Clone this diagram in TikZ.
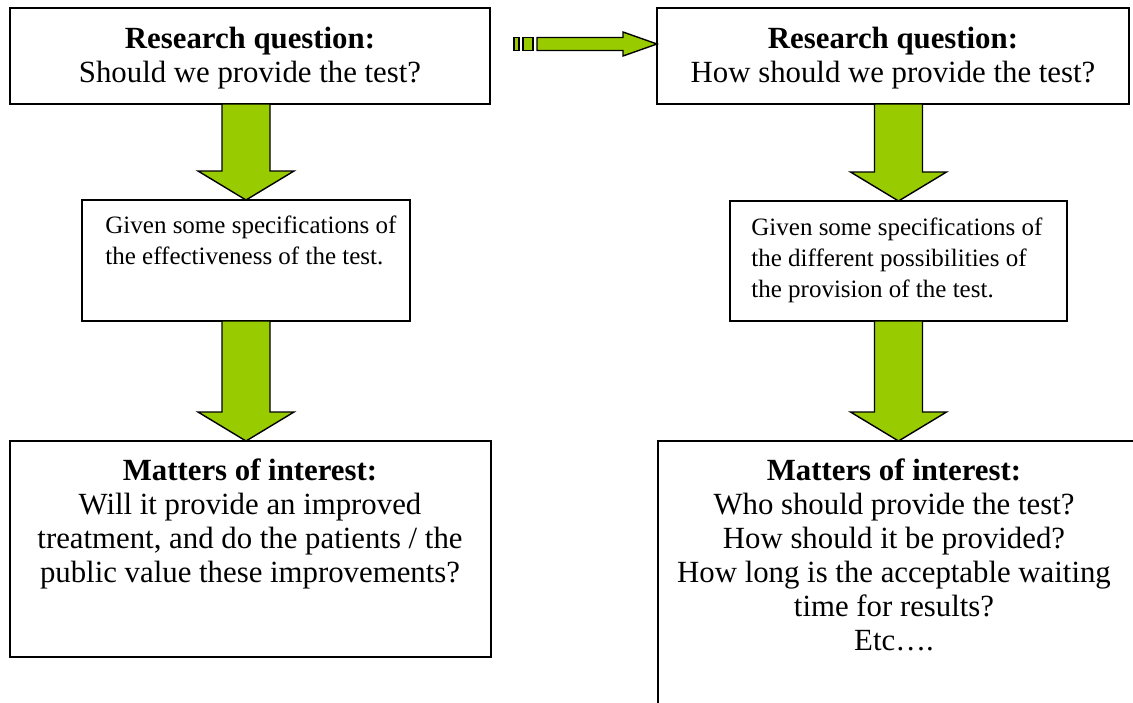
\documentclass[tikz,border=0pt]{standalone}
\usepackage{fontspec}
\setmainfont{Liberation Serif}
\usepackage{tikz}
\usetikzlibrary{positioning, calc}

\definecolor{arrowgreen}{RGB}{153,204,0}
\tikzset{
	box/.style={draw, line width=1pt, inner sep=0pt, outer sep=0pt},
	bigtext/.style={font=\fontsize{15.4}{17}\selectfont, align=center, inner sep=0pt},
	smalltext/.style={font=\fontsize{12.5}{15.6}\selectfont, align=left, inner sep=0pt},
	blockarrow/.style={draw=black, fill=arrowgreen, line width=0.7pt, line join=miter}
}

\begin{document}
\begin{tikzpicture}[x=0.5pt, y=-0.5pt]
\useasboundingbox (0,0) rectangle (1133,702);
\clip (0,0) rectangle (1133,702);

% left column
\node[box, minimum width=240pt, minimum height=48pt] (q1) at (250,56) {};
\node[box, minimum width=164pt, minimum height=60.5pt] (spec1) at (246,260.5) {};
\node[box, minimum width=240.5pt, minimum height=108pt] (int1) at (250.5,549) {};

% right column
\node[box, minimum width=236pt, minimum height=48pt] (q2) at (893,56) {};
\node[box, minimum width=168.5pt, minimum height=60pt] (spec2) at (898.5,261) {};
\node[box, minimum width=251pt, minimum height=159.5pt] (int2) at (909,600.5) {};

\node[bigtext] (q1txt) at ($(q1)+(0,2)$) {\textbf{Research question:}\\Should we provide the test?};
\node[bigtext] (q2txt) at ($(q2)+(0,2)$) {\textbf{Research question:}\\How should we provide the test?};
\node[smalltext, anchor=north west] (spec1txt) at (105,215)
	{Given some specifications of\\the effectiveness of the test.};
\node[smalltext, anchor=north west] (spec2txt) at (751,217)
	{Given some specifications of\\the different possibilities of\\the provision of the test.};
\node[bigtext, anchor=north] (int1txt) at (250,458)
	{\textbf{Matters of interest:}\\Will it provide an improved\\treatment, and do the patients / the\\public value these improvements?};
\node[bigtext, anchor=north] (int2txt) at (894,458)
	{\textbf{Matters of interest:}\\Who should provide the test?\\How should it be provided?\\How long is the acceptable waiting\\time for results?\\Etc….};

\foreach \a/\b/\c in {q1/spec1/spec1, spec1/int1/spec1, q2/spec2/spec2, spec2/int2/spec2}
	\draw[blockarrow] ($(\a.south -| \c.north)+(-24,0)$) -- ($(\b.north -| \c.north)+(-24,-29)$)
		-- ++(-24,0) -- (\b.north -| \c.north) -- ($(\b.north -| \c.north)+(48,-29)$)
		-- ++(-24,0) -- ($(\a.south -| \c.north)+(24,0)$) -- cycle;

% striped arrow into the right question
\coordinate (tip) at ($(q2.west)+(0,-12)$);
\draw[blockarrow] (tip) -- ++(-34,-12) -- ++(0,5.5) -- ++(-86,0) -- ++(0,13)
	-- ++(86,0) -- ++(0,5.5) -- cycle;
\draw[blockarrow] ($(tip)+(-134,-6.5)$) rectangle ++(10,13);
\draw[blockarrow] ($(tip)+(-143,-6.5)$) rectangle ++(5,13);
\end{tikzpicture}
\end{document}
